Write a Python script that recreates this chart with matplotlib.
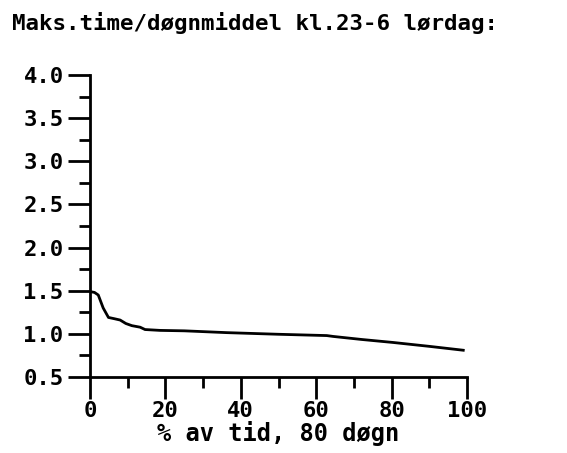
import matplotlib
matplotlib.use("Agg")
import matplotlib.pyplot as plt
from matplotlib.ticker import MultipleLocator

pct_time = [0, 1.2, 2.2, 3.5, 4.9, 6.5, 8.0, 9.5, 11.1, 13.3, 14.6, 18.6, 25, 36.3, 50, 62.8, 64.5, 72, 80.4, 90, 99]
ratio = [1.49, 1.48, 1.45, 1.30, 1.19, 1.175, 1.16, 1.12, 1.095, 1.077, 1.05, 1.04, 1.035, 1.014, 0.995, 0.98, 0.97, 0.935, 0.90, 0.855, 0.81]

title = "Maks.time/døgnmiddel kl.23-6 lørdag:"
xlabel = "% av tid, 80 døgn"

font = dict(family="DejaVu Sans Mono", weight="bold")

fig = plt.figure(figsize=(5.67, 4.53), dpi=100)
ax = fig.add_axes([0.1587, 0.1678, 0.665, 0.6666])
ax.plot(pct_time, ratio, color="black", lw=2)
ax.set_xlim(0, 100)
ax.set_ylim(0.5, 4.0)
for s in ["top", "right"]:
    ax.spines[s].set_visible(False)
for s in ["left", "bottom"]:
    ax.spines[s].set_linewidth(2)
ax.xaxis.set_major_locator(MultipleLocator(20))
ax.xaxis.set_minor_locator(MultipleLocator(10))
ax.yaxis.set_major_locator(MultipleLocator(0.5))
ax.yaxis.set_minor_locator(MultipleLocator(0.25))
ax.tick_params(which="major", direction="out", length=16, width=2, labelsize=16)
ax.tick_params(axis="x", which="major", pad=1)
ax.tick_params(axis="y", which="major", pad=3)
ax.tick_params(which="minor", direction="out", length=8, width=2)
ax.set_yticks([0.5, 1.0, 1.5, 2.0, 2.5, 3.0, 3.5, 4.0])
ax.set_yticklabels(["0.5", "1.0", "1.5", "2.0", "2.5", "3.0", "3.5", "4.0"])
for lab in ax.get_xticklabels() + ax.get_yticklabels():
    lab.set_fontfamily("DejaVu Sans Mono")
    lab.set_fontweight("bold")
ax.set_xlabel(xlabel, fontsize=17, labelpad=0, **font)
fig.text(0.021, 0.95, title, fontsize=16.2, ha="left", va="center", **font)
fig.savefig("out.png", dpi=100)
